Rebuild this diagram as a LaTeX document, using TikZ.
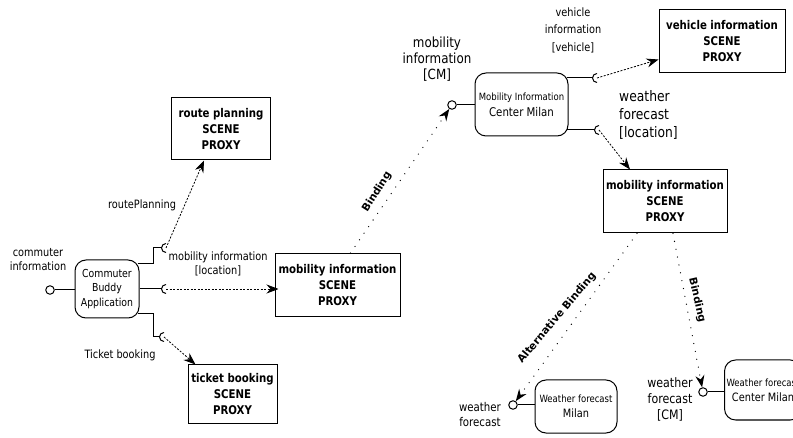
\documentclass[tikz,border=0pt]{standalone}
\usepackage{fontspec}
\setmainfont{DejaVu Sans}[FakeStretch=0.85]
\newfontfamily\widefont{DejaVu Sans}
\usetikzlibrary{arrows.meta}
\begin{document}
\begin{tikzpicture}[x=1pt,y=-1pt,
  box/.style={draw, line width=1pt, align=center, inner sep=2pt, font=\bfseries\fontsize{12}{16}\selectfont},
  comp/.style={draw, line width=1pt, rounded corners=11pt, align=center, inner sep=2pt},
  port/.style={draw, line width=1pt, circle, inner sep=0pt, minimum size=8.5pt, fill=white},
  wire/.style={line width=1pt},
  sock/.style={line width=1pt},
  dep/.style={line width=0.8pt, dash pattern=on 2pt off 1.5pt, -{Stealth[length=12pt,width=9pt,inset=4pt]}},
  bind/.style={line width=1.3pt, line cap=round, dash pattern=on 0pt off 8pt, -{Stealth[length=12pt,width=9pt,inset=4pt]}},
  lbl/.style={align=center, inner sep=0pt},
  blbl/.style={inner sep=0pt, font=\widefont\bfseries\fontsize{10.5}{12}\selectfont},
]
\clip (0,0) rectangle (793,438);
\fill[white] (0,0) rectangle (793,438);

% ---- Commuter Buddy Application
\node[comp, minimum width=64pt, minimum height=58pt, font=\fontsize{11}{14.5}\selectfont] (cba) at (107,289) {Commuter\\Buddy\\Application};
\node[port] (cbap) at (50,290) {};
\draw[wire] (cbap) -- (cbap -| cba.west);
\node[lbl, font=\fontsize{11.5}{14}\selectfont] (cil) at (38,260) {commuter\\information};

% ---- boxes left
\node[box, minimum width=99pt, minimum height=62pt] (rp) at (221,129) {route planning\\SCENE\\PROXY};
\node[box, minimum width=125pt, minimum height=63pt] (mi1) at (337.5,285) {mobility information\\SCENE\\PROXY};
\node[box, minimum width=89pt, minimum height=58pt] (tb) at (232.5,394) {ticket booking\\SCENE\\PROXY};

% ---- sockets of Commuter Buddy
\coordinate (s1) at (162,248);
\coordinate (s2) at (162,289);
\coordinate (s3) at (160,337);
\draw[wire] ([xshift=-2pt,yshift=-4pt]cba.north east) -- ++(16,0) |- (s1);
\draw[wire] (cba.east) -- (s2);
\draw[wire] ([xshift=-2pt,yshift=5pt]cba.south east) -- ++(16,0) |- (s3);
\foreach \s in {s1,s2,s3}
  \draw[sock] ([shift={(4pt,4.5pt)}]\s) arc[start angle=90,end angle=270,radius=4.5pt];
\draw[dep] ([xshift=4pt]s1) -- ([xshift=-17pt]rp.south);
\draw[dep] ([xshift=4pt]s2) -- ([xshift=4pt]s2 -| mi1.west);
\draw[dep] ([xshift=4pt]s3) -- ([xshift=-37pt]tb.north);

\node[lbl, font=\fontsize{11.5}{14}\selectfont] (rpl) at (142,205) {routePlanning};
\node[lbl, font=\fontsize{11.5}{14}\selectfont] (mil) at (218,264) {mobility information\\{[location]}};
\node[lbl, font=\fontsize{11.5}{14}\selectfont] (tbl) at (120,355) {Ticket booking};

% ---- Mobility Information Center Milan
\node[port] (micp) at (452,105) {};
\node[comp, minimum width=93pt, minimum height=63pt, font=\fontsize{12}{16}\selectfont] (mic) at (521.5,104.5) {{\fontsize{10}{12}\selectfont Mobility Information}\\Center Milan};
\draw[wire] (micp) -- (micp -| mic.west);
\node[lbl, font=\fontsize{14}{16}\selectfont] (micl) at (437,59) {mobility\\information\\{[CM]}};
\draw[bind] ([xshift=13pt]mi1.north) -- (micp);
\node[blbl, rotate=58] (b1) at (377,192) {Binding};

\node[box, minimum width=126pt, minimum height=63pt] (vi) at (722,41.5) {vehicle information\\SCENE\\PROXY};
\node[box, minimum width=124pt, minimum height=63pt] (mi2) at (665,201.5) {mobility information\\SCENE\\PROXY};

\coordinate (s4) at (593,78);
\coordinate (s5) at (595,130);
\draw[wire] ([xshift=-2pt]s4 -| mic.east) -- (s4);
\draw[wire] ([xshift=-2pt]s5 -| mic.east) -- (s5);
\foreach \s in {s4,s5}
  \draw[sock] ([shift={(4pt,4.5pt)}]\s) arc[start angle=90,end angle=270,radius=4.5pt];
\draw[dep] ([xshift=4pt]s4) -- ([yshift=-18pt]vi.west);
\draw[dep] ([xshift=4pt]s5) -- ([xshift=-35pt]mi2.north);

\node[lbl, font=\fontsize{11.5}{17.5}\selectfont] (vil) at (573,30) {vehicle\\information\\{[vehicle]}};
\node[lbl, anchor=west, align=left, font=\fontsize{14.5}{18}\selectfont] (wfl) at (619,115) {weather\\forecast\\{[location]}};

% ---- weather forecast components
\node[port] (wfmp) at (513,405) {};
\node[comp, minimum width=82pt, minimum height=53pt, font=\fontsize{11.5}{15}\selectfont] (wfm) at (576,406.5) {{\fontsize{10}{12}\selectfont Weather forecast}\\Milan};
\draw[wire] (wfmp) -- (wfmp -| wfm.west);
\node[lbl, font=\fontsize{12}{15}\selectfont] (wfml) at (480,415) {weather\\forecast};

\node[port] (wfcp) at (703,392) {};
\node[comp, minimum width=72pt, minimum height=60pt, font=\fontsize{11.5}{15}\selectfont] (wfc) at (763,390) {{\fontsize{10}{12}\selectfont Weather forecast}\\Center Milan};
\draw[wire] (wfcp) -- (wfcp -| wfc.west);
\node[lbl, font=\fontsize{13}{16}\selectfont] (wfcl) at (670,399) {weather\\forecast\\{[CM]}};

\draw[bind] ([xshift=-28pt]mi2.south) -- (wfmp);
\draw[bind] ([xshift=8pt]mi2.south) -- (wfcp);
\node[blbl, rotate=50] (b2) at (557,318) {Alternative Binding};
\node[blbl, rotate=-77] (b3) at (697,300) {Binding};
\end{tikzpicture}
\end{document}
